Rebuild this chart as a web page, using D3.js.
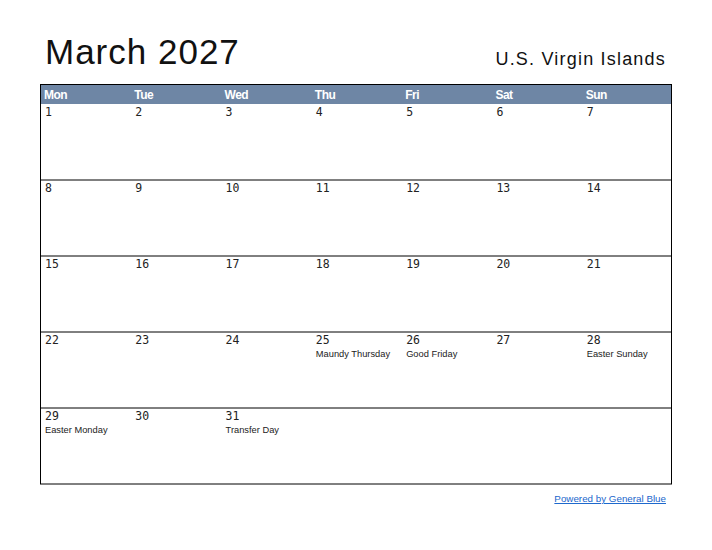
<!DOCTYPE html><html><head><meta charset="utf-8"><script src="https://d3js.org/d3.v7.min.js"></script>
<style>body{margin:0;background:#fff}</style></head><body><script>
const weekdays=["Mon","Tue","Wed","Thu","Fri","Sat","Sun"];
const days=d3.range(1,32);
const firstOffset=0;
const holidays=[{day:25,name:"Maundy Thursday"},{day:26,name:"Good Friday"},{day:28,name:"Easter Sunday"},{day:29,name:"Easter Monday"},{day:31,name:"Transfer Day"}];
const W=712,H=550;
const svg=d3.select("body").append("svg").attr("width",W).attr("height",H);
const x=d3.scaleBand().domain(d3.range(7)).range([40,672]);
const y=d3.scaleBand().domain(d3.range(5)).range([104,484]);
svg.append("text").attr("x",45).attr("y",64).attr("font-family","Liberation Sans, Arial").attr("font-size",35).attr("letter-spacing",1).attr("fill","#111").text("March 2027");
svg.append("text").attr("x",666).attr("y",65).attr("text-anchor","end").attr("font-family","Liberation Sans, Arial").attr("font-size",18).attr("fill","#111").attr("letter-spacing",1.2).text("U.S. Virgin Islands");
svg.append("rect").attr("x",40).attr("y",84).attr("width",632).attr("height",20).attr("fill","#6E86A5");
svg.selectAll(".wd").data(weekdays).join("text").attr("x",(d,i)=>x(i)+4).attr("y",99).attr("font-family","Liberation Sans, Arial").attr("font-weight","bold").attr("font-size",12).attr("fill","#fff").attr("letter-spacing",-0.5).text(d=>d);
svg.selectAll(".hl").data(d3.range(1,5)).join("line").attr("x1",40).attr("x2",672).attr("y1",d=>y(d)).attr("y2",d=>y(d)).attr("stroke","#000").attr("stroke-width",1);
svg.append("rect").attr("x",40.5).attr("y",84.5).attr("width",631).attr("height",399.5).attr("fill","none").attr("stroke","#000");
const pos=d=>{const k=d-1+firstOffset;return {c:k%7,r:Math.floor(k/7)};};
svg.selectAll(".dn").data(days).join("text").attr("x",d=>x(pos(d).c)+5).attr("y",d=>y(pos(d).r)+12).attr("font-family","DejaVu Sans Mono, monospace").attr("font-size",11.5).attr("fill","#222").text(d=>d);
svg.selectAll(".hn").data(holidays).join("text").attr("x",d=>x(pos(d.day).c)+5).attr("y",d=>y(pos(d.day).r)+25).attr("font-family","Liberation Sans, Arial").attr("font-size",9.3).attr("fill","#222").text(d=>d.name);
svg.append("text").attr("x",666).attr("y",502).attr("text-anchor","end").attr("font-family","Liberation Sans, Arial").attr("font-size",9.8).attr("fill","#1a66cc").attr("text-decoration","underline").text("Powered by General Blue");
</script></body></html>
